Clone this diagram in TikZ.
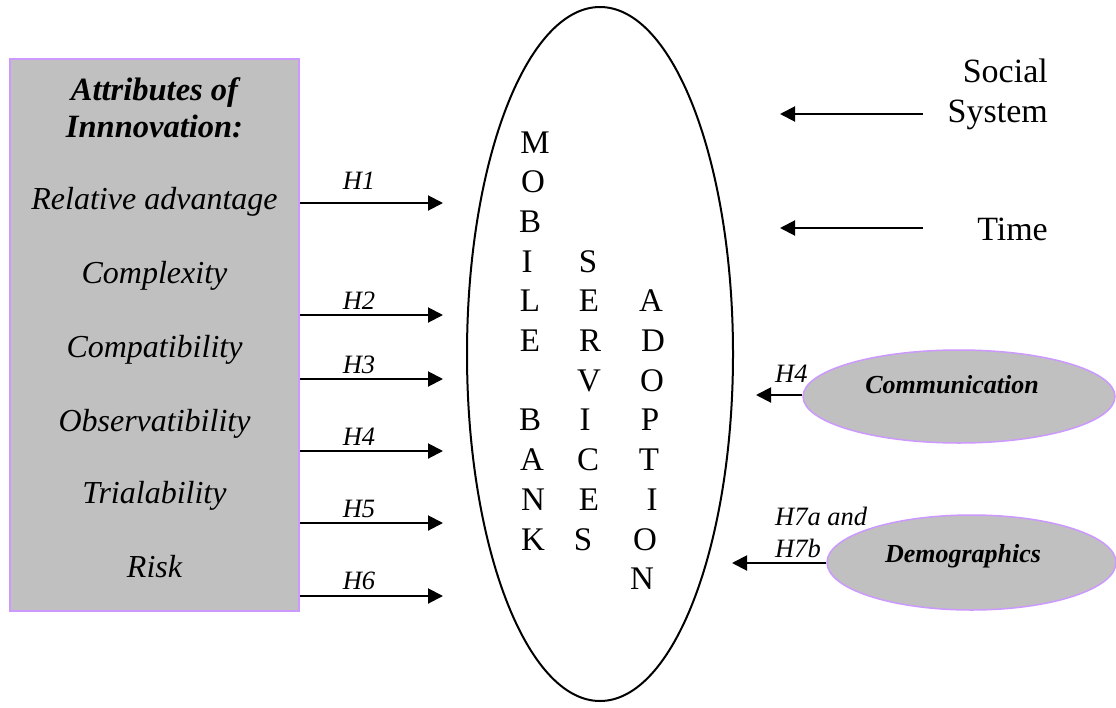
\documentclass[tikz,border=0pt]{standalone}
\usepackage{fontspec}
\setmainfont{Liberation Serif}
\usetikzlibrary{arrows.meta,shapes.geometric}
\definecolor{gbox}{RGB}{192,192,192}
\definecolor{purp}{RGB}{204,153,255}
\begin{document}
\begin{tikzpicture}[x=1pt,y=-1pt,
 item/.style={font=\fontsize{32}{37}\selectfont\itshape, anchor=base, inner sep=0pt},
 ttl/.style={font=\fontsize{32.5}{37}\selectfont\bfseries\itshape, anchor=base, inner sep=0pt},
 hlab/.style={font=\fontsize{26.5}{31}\selectfont\itshape, anchor=base, inner sep=0pt},
 big/.style={font=\fontsize{33}{40}\selectfont, anchor=base, inner sep=0pt},
 side/.style={font=\fontsize{34}{40}\selectfont, anchor=base east, inner sep=0pt},
 oval/.style={ellipse, draw=purp, fill=gbox, line width=1.5pt, inner sep=0pt},
 ovtxt/.style={font=\fontsize{26}{31}\selectfont\bfseries\itshape, anchor=base, inner sep=0pt},
 arr/.style={line width=2pt, -{Triangle[length=15pt,width=15pt]}}]
\useasboundingbox (0,0) rectangle (1116,707);

% attributes box
\node[draw=purp, fill=gbox, line width=1.5pt, minimum width=289pt, minimum height=552pt, inner sep=0pt] (box) at (154.5,335) {};
\node[ttl] (t1) at (154.5,100) {Attributes of};
\node[ttl] (t2) at (154.5,137) {Innnovation:};
\node[item] (i1) at (154.5,209) {Relative advantage};
\node[item] (i2) at (154.5,283) {Complexity};
\node[item] (i3) at (154.5,357) {Compatibility};
\node[item] (i4) at (154.5,431) {Observatibility};
\node[item] (i5) at (154.5,503) {Trialability};
\node[item] (i6) at (154.5,577) {Risk};

% hypothesis arrows
\foreach \n/\y/\ly in {1/203/189, 2/315/309, 3/379/373, 4/451/445, 5/523/517, 6/596/589}{
  \coordinate (e\n) at (443,\y);
  \draw[arr] (box.east |- e\n) -- (e\n);
  \node[hlab] (h\n) at (359,\ly) {H\n};
}

% central ellipse
\node[draw, ellipse, line width=2pt, minimum width=266pt, minimum height=694pt, inner sep=0pt] (mbsa) at (600,354) {};
\foreach \r/\l/\x in {0/M/535,1/O/533,2/B/530,3/I/527,4/L/530,5/E/530,7/B/530,8/A/532,9/N/533,10/K/533}
  \node[big] (ca\r) at (\x,153+39.7*\r) {\l};
\foreach \r/\l/\x in {3/S/588,4/E/589,5/R/590,6/V/589,7/I/585,8/C/588,9/E/589,10/S/583}
  \node[big] (cb\r) at (\x,153+39.7*\r) {\l};
\foreach \r/\l/\x in {4/A/651,5/D/653,6/O/652,7/P/650,8/T/649,9/I/652,10/O/645,11/N/642}
  \node[big] (cc\r) at (\x,153+39.7*\r) {\l};

% social system and time
\node[side] (soc1) at (1048,82) {Social};
\node[side] (soc2) at (1048,122) {System};
\node[side] (time) at (1048,240) {Time};
\coordinate (ss) at (923,114);
\coordinate (se) at (780,114);
\draw[arr] (ss) -- (se);
\coordinate (ts) at (923,228);
\coordinate (te) at (780,228);
\draw[arr] (ts) -- (te);

% communication
\node[oval, minimum width=312pt, minimum height=93pt] (comm) at (959,396.5) {};
\node[ovtxt] (commt) at (952,393) {Communication};
\coordinate (ce) at (756,395);
\draw[arr] (comm.west |- ce) -- (ce);
\node[hlab, anchor=base west] (h4r) at (775,382) {H4};

% demographics
\node[oval, minimum width=289pt, minimum height=95pt] (demo) at (971.5,562.5) {};
\node[ovtxt] (demot) at (963,562) {Demographics};
\coordinate (de) at (732,563);
\draw[arr] (demo.west |- de) -- (de);
\node[hlab, anchor=base west] (h7a) at (775,525) {H7a and};
\node[hlab, anchor=base west] (h7b) at (775,557) {H7b};
\end{tikzpicture}
\end{document}
